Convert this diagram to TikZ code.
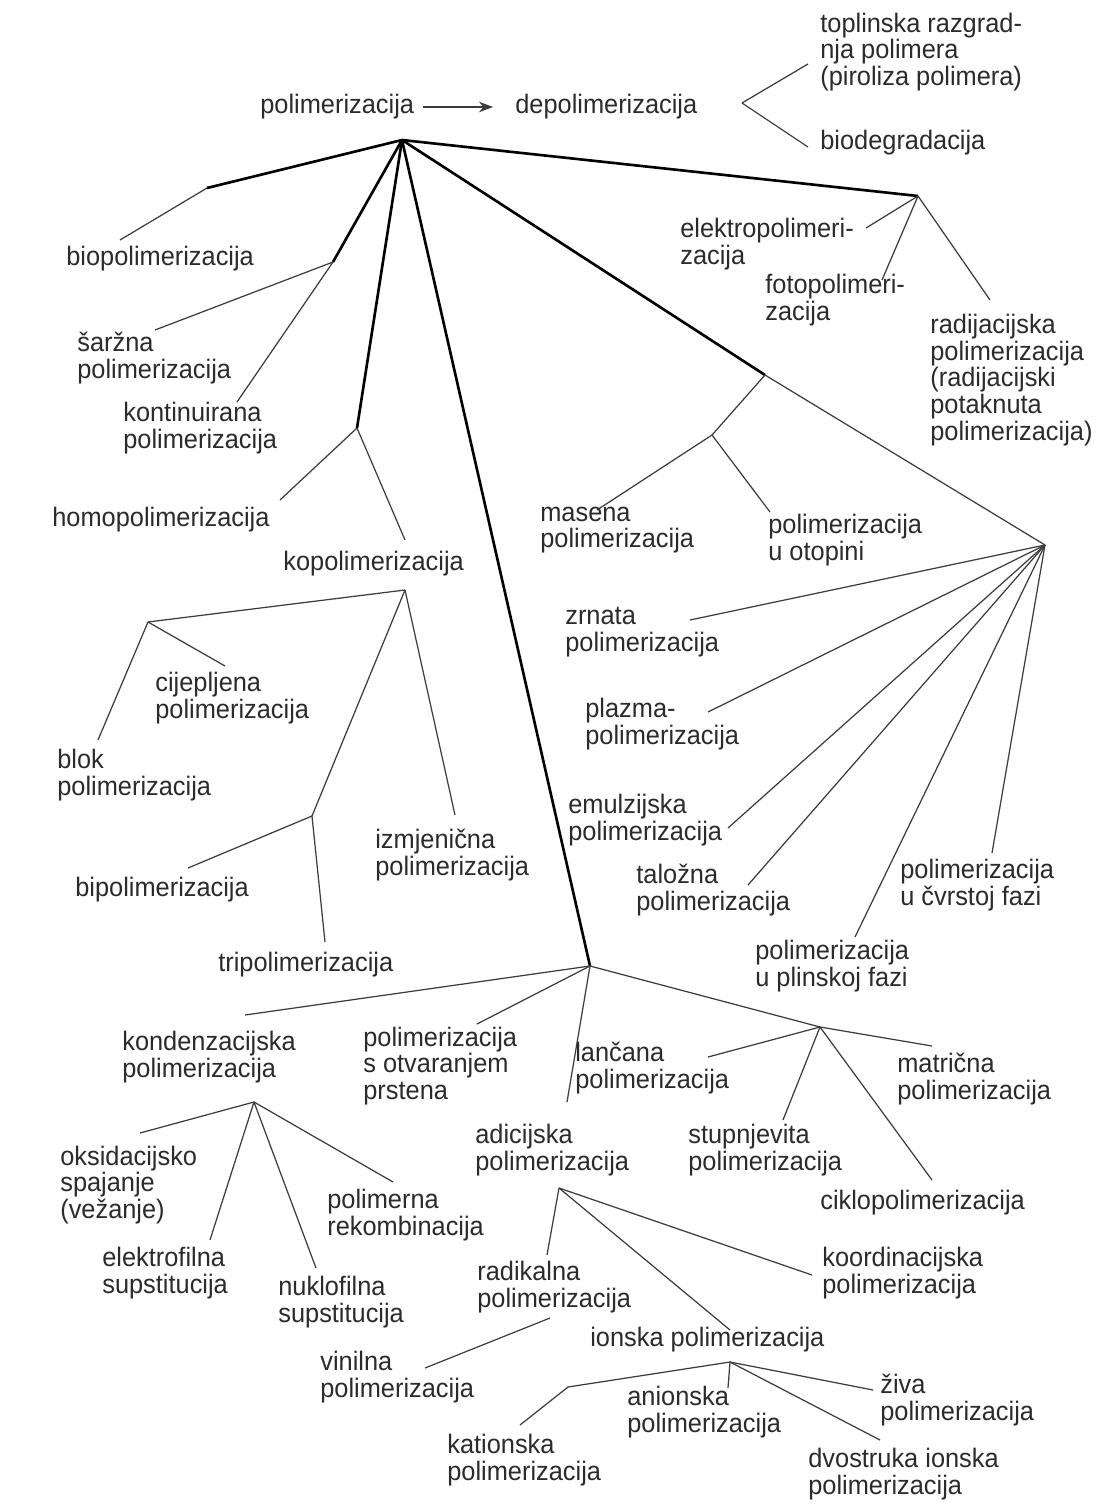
\documentclass[tikz,border=0pt]{standalone}
\usepackage{fontspec}
\setmainfont{Liberation Sans}[FakeStretch=0.95]
\usetikzlibrary{arrows.meta}

\definecolor{ink}{HTML}{2B2B2B}
\definecolor{wire}{HTML}{3C3C3C}
\newcommand\lblfont{\fontsize{15.2}{15.2}\selectfont\lineskiplimit -20pt\relax}

\begin{document}
\begin{tikzpicture}[x=0.02cm,y=-0.02cm,
  lbl/.style={anchor=west,align=left,inner sep=0pt,text=ink,font=\lblfont},
  trunk/.style={draw=black,line width=1.5pt},
  twig/.style={draw=wire,line width=0.7pt},
  arr/.style={draw=wire,line width=0.7pt,-{Stealth[length=8pt,width=6pt]}}]
\useasboundingbox[fill=white] (0,0) rectangle (1112,1508);

% labels
\node[lbl] (pol) at (260,107) {polimerizacija};
\node[lbl] (dep) at (515,107) {depolimerizacija};
\node[lbl] (top) at (820,52) {toplinska razgrad-\\nja polimera\\(piroliza polimera)};
\node[lbl] (biod) at (820,143) {biodegradacija};
\node[lbl] (bio) at (66,259) {biopolimerizacija};
\node[lbl] (sar) at (77,358) {šaržna\\polimerizacija};
\node[lbl] (kon) at (123,428) {kontinuirana\\polimerizacija};
\node[lbl] (hom) at (52,520) {homopolimerizacija};
\node[lbl] (kop) at (283,564) {kopolimerizacija};
\node[lbl] (cij) at (155,698) {cijepljena\\polimerizacija};
\node[lbl] (blo) at (57,775) {blok\\polimerizacija};
\node[lbl] (izm) at (375,855) {izmjenična\\polimerizacija};
\node[lbl] (bip) at (75,890) {bipolimerizacija};
\node[lbl] (tri) at (218,965) {tripolimerizacija};
\node[lbl] (ele) at (680,244) {elektropolimeri-\\zacija};
\node[lbl] (fot) at (765,300) {fotopolimeri-\\zacija};
\node[lbl] (rad) at (930,380) {radijacijska\\polimerizacija\\(radijacijski\\potaknuta\\polimerizacija)};
\node[lbl] (mas) at (540,530) {masena\\polimerizacija};
\node[lbl] (oto) at (768,540) {polimerizacija\\u otopini};
\node[lbl] (zrn) at (565,632) {zrnata\\polimerizacija};
\node[lbl] (pla) at (585,724) {plazma-\\polimerizacija};
\node[lbl] (emu) at (568,820) {emulzijska\\polimerizacija};
\node[lbl] (tal) at (636,890) {taložna\\polimerizacija};
\node[lbl] (cvr) at (900,885) {polimerizacija\\u čvrstoj fazi};
\node[lbl] (pli) at (755,966) {polimerizacija\\u plinskoj fazi};
\node[lbl] (kond) at (122,1057) {kondenzacijska\\polimerizacija};
\node[lbl] (prs) at (363,1066) {polimerizacija\\s otvaranjem\\prstena};
\node[lbl] (lan) at (575,1068) {lančana\\polimerizacija};
\node[lbl] (mat) at (897,1079) {matrična\\polimerizacija};
\node[lbl] (adi) at (475,1150) {adicijska\\polimerizacija};
\node[lbl] (stu) at (688,1150) {stupnjevita\\polimerizacija};
\node[lbl] (cik) at (820,1203) {ciklopolimerizacija};
\node[lbl] (oks) at (60,1185) {oksidacijsko\\spajanje\\(vežanje)};
\node[lbl] (rek) at (327,1215) {polimerna\\rekombinacija};
\node[lbl] (elf) at (102,1273) {elektrofilna\\supstitucija};
\node[lbl] (nuk) at (278,1302) {nuklofilna\\supstitucija};
\node[lbl] (rdk) at (477,1287) {radikalna\\polimerizacija};
\node[lbl] (koo) at (822,1273) {koordinacijska\\polimerizacija};
\node[lbl] (ion) at (590,1340) {ionska polimerizacija};
\node[lbl] (vin) at (320,1377) {vinilna\\polimerizacija};
\node[lbl] (ani) at (627,1412) {anionska\\polimerizacija};
\node[lbl] (ziv) at (880,1400) {živa\\polimerizacija};
\node[lbl] (kat) at (447,1460) {kationska\\polimerizacija};
\node[lbl] (dvo) at (808,1474) {dvostruka ionska\\polimerizacija};

% junctions
\coordinate (root) at (402,140);
\coordinate (vtx) at (742,103);
\coordinate (j-bio) at (207,188);
\coordinate (j-proc) at (333,262);
\coordinate (j-homo) at (357,428);
\coordinate (j-kop) at (405,590);
\coordinate (j-blok) at (148,622);
\coordinate (j-bitri) at (312,816);
\coordinate (j-el) at (918,196);
\coordinate (j-mass) at (765,375);
\coordinate (j-sol) at (712,435);
\coordinate (j-fan) at (1045,545);
\coordinate (j-low) at (590,966);
\coordinate (j-step) at (820,1027);
\coordinate (j-kond) at (254,1102);
\coordinate (j-adi) at (559,1188);
\coordinate (j-ion) at (730,1362);

% free ends
\coordinate (top-e) at (808,64);
\coordinate (biod-e) at (808,147);
\coordinate (bio-e) at (120,240);
\coordinate (sar-e) at (155,330);
\coordinate (kon-e) at (237,402);
\coordinate (hom-e) at (280,500);
\coordinate (kop-e) at (405,540);
\coordinate (blo-e) at (98,740);
\coordinate (cij-e) at (225,666);
\coordinate (izm-e) at (455,815);
\coordinate (bip-e) at (188,868);
\coordinate (tri-e) at (325,942);
\coordinate (ele-e) at (866,228);
\coordinate (fot-e) at (882,280);
\coordinate (rad-e) at (990,300);
\coordinate (mas-e) at (597,510);
\coordinate (oto-e) at (770,512);
\coordinate (zrn-e) at (690,620);
\coordinate (pla-e) at (708,712);
\coordinate (emu-e) at (728,828);
\coordinate (tal-e) at (748,885);
\coordinate (pli-e) at (855,937);
\coordinate (cvr-e) at (992,853);
\coordinate (kond-e) at (245,1015);
\coordinate (prs-e) at (477,1024);
\coordinate (adi-e) at (567,1102);
\coordinate (lan-e) at (708,1057);
\coordinate (mat-e) at (932,1046);
\coordinate (stu-e) at (783,1120);
\coordinate (cik-e) at (932,1180);
\coordinate (oks-e) at (140,1133);
\coordinate (elf-e) at (210,1240);
\coordinate (nuk-e) at (316,1268);
\coordinate (rek-e) at (393,1182);
\coordinate (rdk-e) at (547,1255);
\coordinate (koo-e) at (812,1275);
\coordinate (ion-e) at (730,1330);
\coordinate (vin-s) at (550,1318);
\coordinate (vin-e) at (425,1368);
\coordinate (kat-m) at (568,1387);
\coordinate (kat-e) at (520,1425);
\coordinate (ani-e) at (728,1388);
\coordinate (ziv-e) at (873,1390);
\coordinate (dvo-e) at (880,1440);

% connectors
\draw[arr,shorten <=0.18cm,shorten >=0.44cm] (pol) -- (dep);
\foreach \j in {j-bio,j-proc,j-homo,j-low,j-mass,j-el}
  \draw[trunk] (root) -- (\j);
\foreach \a/\b in {vtx/top-e, vtx/biod-e, j-bio/bio-e, j-proc/sar-e, j-proc/kon-e,
    j-homo/hom-e, j-homo/kop-e, j-kop/j-blok, j-kop/j-bitri, j-kop/izm-e,
    j-blok/blo-e, j-blok/cij-e, j-bitri/bip-e, j-bitri/tri-e,
    j-el/ele-e, j-el/fot-e, j-el/rad-e, j-mass/j-fan, j-mass/j-sol,
    j-sol/mas-e, j-sol/oto-e, j-fan/zrn-e, j-fan/pla-e, j-fan/emu-e,
    j-fan/tal-e, j-fan/pli-e, j-fan/cvr-e,
    j-low/kond-e, j-low/prs-e, j-low/adi-e, j-low/j-step,
    j-step/lan-e, j-step/mat-e, j-step/stu-e, j-step/cik-e,
    j-kond/oks-e, j-kond/elf-e, j-kond/nuk-e, j-kond/rek-e,
    j-adi/rdk-e, j-adi/ion-e, j-adi/koo-e, vin-s/vin-e,
    j-ion/ani-e, j-ion/ziv-e, j-ion/dvo-e}
  \draw[twig] (\a) -- (\b);
\draw[twig] (j-ion) -- (kat-m) -- (kat-e);
\end{tikzpicture}
\end{document}
